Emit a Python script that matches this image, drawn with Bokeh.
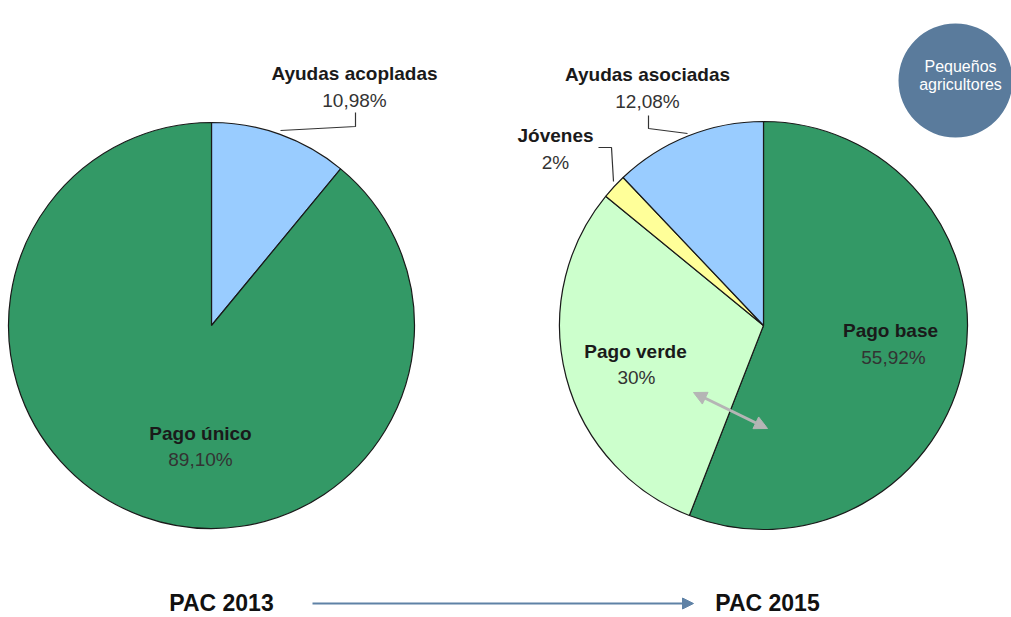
import math
from bokeh.plotting import figure
from bokeh.models import Range1d, Arrow, NormalHead, ColumnDataSource
from bokeh.core.properties import value
from bokeh.embed import file_html
from bokeh.resources import INLINE

# ---- data ----
pac2013_labels = ["Ayudas acopladas", "Pago único"]
pac2013_values = [10.98, 89.10]
pac2013_pct = ["10,98%", "89,10%"]

pac2015_labels = ["Pago base", "Pago verde", "Jóvenes", "Ayudas asociadas"]
pac2015_values = [55.92, 30.0, 2.0, 12.08]
pac2015_pct = ["55,92%", "30%", "2%", "12,08%"]

titles = ["PAC 2013", "PAC 2015"]
badge_text = ["Pequeños", "agricultores"]

# ---- styles ----
colors2013 = ["#99CCFF", "#339966"]
colors2015 = ["#339966", "#CCFFCC", "#FFFF99", "#99CCFF"]
FONT = "Liberation Sans"

H = 617  # screen height; data y = H - screen_y
W_FIG, H_FIG = 1011, 617
p = figure(width=W_FIG, height=H_FIG, output_backend="svg", toolbar_location=None,
           x_range=Range1d(0, W_FIG), y_range=Range1d(0, H_FIG),
           min_border=0, outline_line_color=None, background_fill_color="white")
p.axis.visible = False
p.grid.visible = False


def sy(y):
    return H - y


def pie(cx, cy, r, values, colors):
    total = sum(values)
    cum = 0.0
    starts, ends = [], []
    for v in values:
        a0 = math.pi / 2 - 2 * math.pi * cum / total
        cum += v
        a1 = math.pi / 2 - 2 * math.pi * cum / total
        starts.append(a0)
        ends.append(a1)
    src = ColumnDataSource(dict(x=[cx] * len(values), y=[sy(cy)] * len(values),
                                s=starts, e=ends, c=colors))
    p.wedge(x="x", y="y", radius=r, start_angle="s", end_angle="e", direction="clock",
            fill_color="c", line_color="#1a1a1a", line_width=1.2, source=src)


pie(211, 325, 203, pac2013_values, colors2013)
pie(763, 325, 204, pac2015_values, colors2015)


def leader(xs, ys):
    p.line(xs, [sy(v) for v in ys], line_color="#333333", line_width=1.2)


leader([355, 355, 280], [112, 126, 130])
leader([648, 648, 687], [115, 128, 133])
leader([598, 611, 613], [147, 147, 181])

name_pos_2013 = [(354, 73), (200, 433)]
pct_pos_2013 = [(354, 100), (200, 459)]
name_pos_2015 = [(890, 330), (635, 351), (555, 135), (647, 74)]
pct_pos_2015 = [(893, 357), (636, 377), (555, 162), (647, 101)]


def labels(names, pcts, npos, ppos):
    p.text(x=[q[0] for q in npos], y=[sy(q[1]) for q in npos], text=names,
           text_font=value(FONT), text_font_style="bold", text_font_size="19px",
           text_color="#1a1a1a", text_align="center", text_baseline="middle")
    p.text(x=[q[0] for q in ppos], y=[sy(q[1]) for q in ppos], text=pcts,
           text_font=value(FONT), text_font_size="19px",
           text_color="#333333", text_align="center", text_baseline="middle")


labels(pac2013_labels, pac2013_pct, name_pos_2013, pct_pos_2013)
labels(pac2015_labels, pac2015_pct, name_pos_2015, pct_pos_2015)

# grey double arrow
p.add_layout(Arrow(x_start=693, y_start=sy(392), x_end=767, y_end=sy(428),
                   line_color="#b5b5b5", line_width=3,
                   start=NormalHead(size=13, fill_color="#b5b5b5", line_color="#b5b5b5"),
                   end=NormalHead(size=13, fill_color="#b5b5b5", line_color="#b5b5b5")))

# badge
p.scatter(x=[955], y=[sy(80)], size=114, marker="circle", fill_color="#5A7B9C",
          line_color=None)
p.text(x=[960, 960], y=[sy(66), sy(84)], text=badge_text, text_font=value(FONT),
       text_font_size="16px", text_color="white", text_align="center",
       text_baseline="middle")

# bottom titles + arrow
p.text(x=[221, 767], y=[sy(602), sy(602)], text=titles, text_font=value(FONT),
       text_font_style="bold", text_font_size="23px", text_color="#111111",
       text_align="center", text_baseline="middle")
p.add_layout(Arrow(x_start=312, y_start=sy(603), x_end=693, y_end=sy(603),
                   line_color="#5F82A6", line_width=2,
                   end=NormalHead(size=11, fill_color="#5F82A6", line_color="#5F82A6")))

open("out.html", "w").write(file_html(p, INLINE))
